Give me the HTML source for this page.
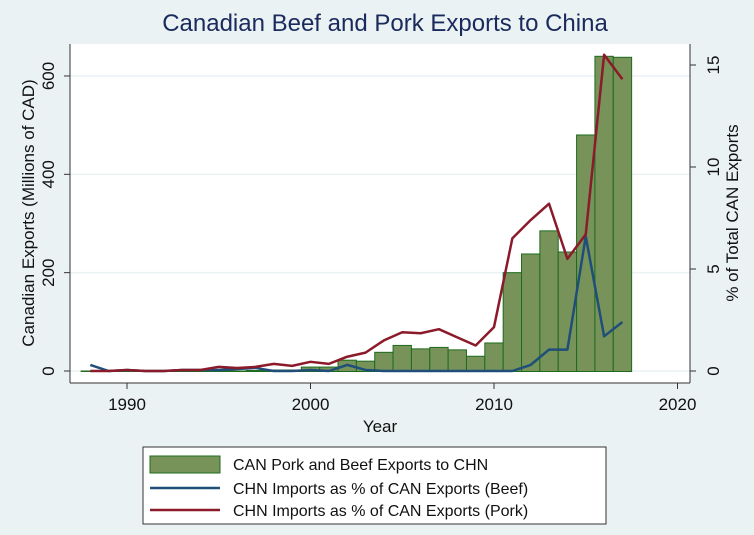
<!DOCTYPE html>
<html><head><meta charset="utf-8"><style>
body{margin:0;background:#eaf2f3;font-family:"Liberation Sans",sans-serif}
svg{display:block}
</style></head><body>
<svg id="c" width="754" height="535" xmlns="http://www.w3.org/2000/svg">
<rect width="754" height="535" fill="#eaf2f3"/>
<text x="385" y="31" text-anchor="middle" font-size="24" fill="#1a2a5c">Canadian Beef and Pork Exports to China</text>
<rect x="70" y="44" width="620" height="339" fill="#fff"/>
<g id="grid"></g><g id="bars"></g><g id="lines"></g><g id="axes"></g>
<g>
<rect x="143" y="447" width="463" height="77" fill="#fff" stroke="#333" stroke-width="1"/>
<rect x="150" y="456" width="70" height="17" fill="#77935a" stroke="#1e6b1e" stroke-width="1"/>
<text x="233" y="470" font-size="16" fill="#111">CAN Pork and Beef Exports to CHN</text>
<line x1="150" y1="488" x2="220" y2="488" stroke="#1f4e79" stroke-width="2.5"/>
<text x="233" y="494" font-size="16" fill="#111">CHN Imports as % of CAN Exports (Beef)</text>
<line x1="150" y1="510" x2="220" y2="510" stroke="#8b1a2a" stroke-width="2.5"/>
<text x="233" y="516" font-size="16" fill="#111">CHN Imports as % of CAN Exports (Pork)</text>
</g>
</svg>
<script>
const years=[1988,1989,1990,1991,1992,1993,1994,1995,1996,1997,1998,1999,2000,2001,2002,2003,2004,2005,2006,2007,2008,2009,2010,2011,2012,2013,2014,2015,2016,2017];
const exportsM=[0,0,0,0,0,0,0,0,0,1,2,2,8,8,22,20,38,52,45,48,43,30,57,200,238,285,242,480,640,638];
const beefPct=[0.3,0,0.05,0,0,0.05,0.05,0.05,0.1,0.15,0,0,0.05,0,0.3,0.05,0,0,0,0,0,0,0,0,0.3,1.05,1.05,6.6,1.7,2.4];
const porkPct=[0,0,0.05,0,0,0.05,0.05,0.2,0.15,0.2,0.35,0.25,0.45,0.35,0.7,0.9,1.5,1.9,1.85,2.05,1.65,1.25,2.15,6.5,7.4,8.2,5.5,6.7,15.5,14.3];
const xTicks=[1990,2000,2010,2020];
const yTicks=[0,200,400,600];
const y2Ticks=[0,5,10,15];
const NS="http://www.w3.org/2000/svg";
const X=v=>127+(v-1990)*18.35;
const Y=v=>371-v*0.4917;
const Y2=v=>371-v*20.4;
function mk(t,a,p){const e=document.createElementNS(NS,t);for(const k in a)e.setAttribute(k,a[k]);document.getElementById(p).appendChild(e);return e;}
yTicks.forEach(v=>{const g=mk('line',{x1:70,x2:690,y1:Y(v),y2:Y(v),stroke:'#eaf2f3','stroke-width':1.5},'grid');

});
years.forEach((yr,i)=>{const w=18.35;const b=mk('rect',{x:X(yr)-w/2,y:Y(exportsM[i]),width:w,height:Y(0)-Y(exportsM[i])+0.5,fill:'#77935a',stroke:'#1e6b1e','stroke-width':1},'bars');

});
function line(arr,col,name){const d=years.map((yr,i)=>(i?'L':'M')+X(yr)+','+Y2(arr[i])).join(' ');
const p=mk('path',{d:d,fill:'none',stroke:col,'stroke-width':2.5,'stroke-linejoin':'round'},'lines');

}
line(beefPct,'#1f4e79','beef-line');
line(porkPct,'#8b1a2a','pork-line');
mk('line',{x1:70,x2:70,y1:44,y2:383,stroke:'#333'},'axes');
mk('line',{x1:70,x2:690,y1:383,y2:383,stroke:'#333'},'axes');
mk('line',{x1:690,x2:690,y1:44,y2:383,stroke:'#333'},'axes');
yTicks.forEach(v=>{mk('line',{x1:64,x2:70,y1:Y(v),y2:Y(v),stroke:'#333'},'axes');
const t=mk('text',{x:54,y:Y(v),'font-size':17,fill:'#111','text-anchor':'middle',transform:`rotate(-90 54 ${Y(v)})`},'axes');t.textContent=v;

});
y2Ticks.forEach(v=>{mk('line',{x1:690,x2:696,y1:Y2(v),y2:Y2(v),stroke:'#333'},'axes');
const t=mk('text',{x:719,y:Y2(v),'font-size':17,fill:'#111','text-anchor':'middle',transform:`rotate(-90 719 ${Y2(v)})`},'axes');t.textContent=v;

});
xTicks.forEach(v=>{mk('line',{x1:X(v),x2:X(v),y1:383,y2:389,stroke:'#333'},'axes');
const t=mk('text',{x:X(v),y:410,'font-size':17,fill:'#111','text-anchor':'middle'},'axes');t.textContent=v;

});
let t=mk('text',{x:380,y:432,'font-size':17,fill:'#111','text-anchor':'middle'},'axes');t.textContent='Year';


t=mk('text',{x:34,y:213,'font-size':17,fill:'#111','text-anchor':'middle',transform:'rotate(-90 34 213)'},'axes');t.textContent='Canadian Exports (Millions of CAD)';


t=mk('text',{x:738,y:213,'font-size':17,fill:'#111','text-anchor':'middle',transform:'rotate(-90 738 213)'},'axes');t.textContent='% of Total CAN Exports';


</script>
</body></html>
